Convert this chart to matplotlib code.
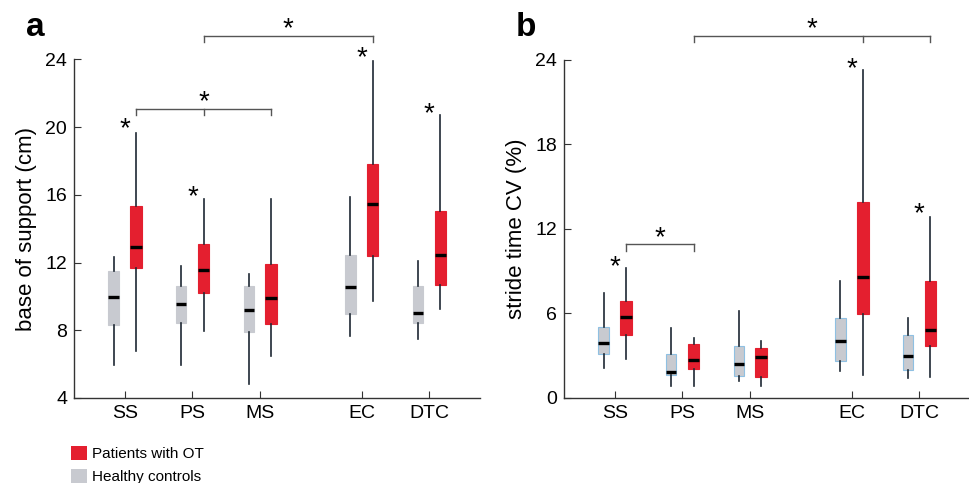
import numpy as np
import matplotlib.pyplot as plt
from matplotlib.patches import Patch

plt.rcParams['font.family'] = ['Liberation Sans', 'DejaVu Sans']

conditions = ["SS", "PS", "MS", "EC", "DTC"]
positions = [1, 2, 3, 4.5, 5.5]

# panel a: base of support (cm)
a_ctrl_lo = [5.97, 5.93, 4.85, 7.64, 7.48]
a_ctrl_q1 = [8.33, 8.42, 7.89, 8.96, 8.42]
a_ctrl_med = [9.96, 9.55, 9.21, 10.55, 9.05]
a_ctrl_q3 = [11.51, 10.63, 10.63, 12.46, 10.59]
a_ctrl_hi = [12.36, 11.81, 11.34, 15.86, 12.12]

a_ot_lo = [6.75, 7.97, 6.46, 9.76, 9.25]
a_ot_q1 = [11.67, 10.19, 8.37, 12.40, 10.69]
a_ot_med = [12.95, 11.59, 9.92, 15.45, 12.46]
a_ot_q3 = [15.37, 13.12, 11.91, 17.81, 15.05]
a_ot_hi = [19.67, 15.74, 15.78, 23.94, 20.72]

# panel b: stride time CV (%)
b_ctrl_lo = [2.15, 0.87, 1.23, 1.94, 1.42]
b_ctrl_q1 = [3.14, 1.60, 1.53, 2.60, 1.96]
b_ctrl_med = [3.89, 1.82, 2.43, 4.01, 3.00]
b_ctrl_q3 = [5.03, 3.14, 3.71, 5.66, 4.48]
b_ctrl_hi = [7.48, 4.96, 6.18, 8.33, 5.66]

b_ot_lo = [2.78, 0.87, 0.83, 1.65, 1.46]
b_ot_q1 = [4.44, 2.08, 1.51, 5.99, 3.71]
b_ot_med = [5.73, 2.71, 2.88, 8.57, 4.79]
b_ot_q3 = [6.89, 3.85, 3.56, 13.90, 8.31]
b_ot_hi = [9.20, 4.25, 4.06, 23.25, 12.86]

# stars above single conditions (index, height)
a_stars = [(0, 20.1), (1, 16.1), (3, 24.3), (4, 21.0)]
b_stars = [(0, 9.6), (3, 23.6), (4, 13.3)]
# brackets: (list of condition indices, height)
a_brackets = [([0, 1, 2], 21.1), ([1, 3], 25.4)]
b_brackets = [([0, 1], 10.9), ([1, 3, 4], 25.7)]

red = '#e41f2f'
grey = '#c8cad0'
off = 0.165


def stats(lo, q1, med, q3, hi):
    return [dict(whislo=lo[i], q1=q1[i], med=med[i], q3=q3[i], whishi=hi[i])
            for i in range(len(lo))]


def star(ax, x, y):
    ax.annotate('*', (x, y), xytext=(0, -3), textcoords='offset points',
                ha='center', va='center', fontsize=20, annotation_clip=False)


def draw(ax, ctrl, ot, stars, brackets, ymax, ylabel, grey_edge):
    px_c = [p - off for p in positions]
    px_o = [p + off for p in positions]
    for st, px, col, w in [(ctrl, px_c, grey, 0.155), (ot, px_o, red, 0.17)]:
        ec = grey_edge if (grey_edge and col == grey) else col
        ax.bxp(st, positions=px, widths=w, patch_artist=True, showcaps=False,
               showfliers=False,
               boxprops=dict(facecolor=col, edgecolor=ec, linewidth=0.8),
               whiskerprops=dict(color='#1e2833', linewidth=1.2),
               medianprops=dict(color='black', linewidth=2.4, solid_capstyle='butt'),
               manage_ticks=False, zorder=3)
    for i, h in stars:
        star(ax, positions[i], h)
    for idx, h in brackets:
        xs = [px_o[i] for i in idx]
        ax.plot([xs[0], xs[-1]], [h, h], color='#555555', lw=1.0, clip_on=False)
        for x in xs:
            ax.plot([x, x], [h, h - 0.45 * ymax / 24], color='#555555', lw=1.0,
                    clip_on=False)
        star(ax, (xs[0] + xs[-1]) / 2, h + 0.75 * ymax / 24)
    ax.set_xlim(0.25, 6.25)
    ax.set_xticks(positions)
    ax.set_xticklabels(conditions)
    ax.set_ylabel(ylabel, fontsize=16, labelpad=6)
    for s in ['top', 'right']:
        ax.spines[s].set_visible(False)
    for s in ['left', 'bottom']:
        ax.spines[s].set_color('#333333')
        ax.spines[s].set_linewidth(1.0)
    ax.tick_params(direction='in', length=5, labelsize=14, color='#333333')
    ax.tick_params(axis='y', pad=5)
    ax.tick_params(axis='x', pad=5)


fig = plt.figure(figsize=(9.7, 4.83), dpi=100)
ax1 = fig.add_axes([74 / 970, 1 - 398 / 483, 406 / 970, 338.5 / 483])
ax2 = fig.add_axes([564 / 970, 1 - 398 / 483, 406 / 970, 338.5 / 483])

draw(ax1, stats(a_ctrl_lo, a_ctrl_q1, a_ctrl_med, a_ctrl_q3, a_ctrl_hi),
     stats(a_ot_lo, a_ot_q1, a_ot_med, a_ot_q3, a_ot_hi),
     a_stars, a_brackets, 20, 'base of support (cm)', None)
ax1.set_ylim(4, 24)
ax1.set_yticks(np.arange(4, 25, 4))

draw(ax2, stats(b_ctrl_lo, b_ctrl_q1, b_ctrl_med, b_ctrl_q3, b_ctrl_hi),
     stats(b_ot_lo, b_ot_q1, b_ot_med, b_ot_q3, b_ot_hi),
     b_stars, b_brackets, 24, 'stride time CV (%)', '#8fc0e2')
ax2.set_ylim(0, 24)
ax2.set_yticks(np.arange(0, 25, 6))

fig.text(26 / 970, 1 - 36 / 483, 'a', fontsize=24, fontweight='bold')
fig.text(516 / 970, 1 - 36 / 483, 'b', fontsize=24, fontweight='bold')

fig.legend(handles=[Patch(facecolor=red, label='Patients with OT'),
                    Patch(facecolor=grey, label='Healthy controls')],
           loc='upper left', bbox_to_anchor=(71 / 970, 1 - 446 / 483),
           frameon=False, fontsize=11, handlelength=1.05, handleheight=1.05,
           handletextpad=0.35, labelspacing=0.5, borderpad=0, borderaxespad=0)

fig.savefig('out.png', dpi=100)
